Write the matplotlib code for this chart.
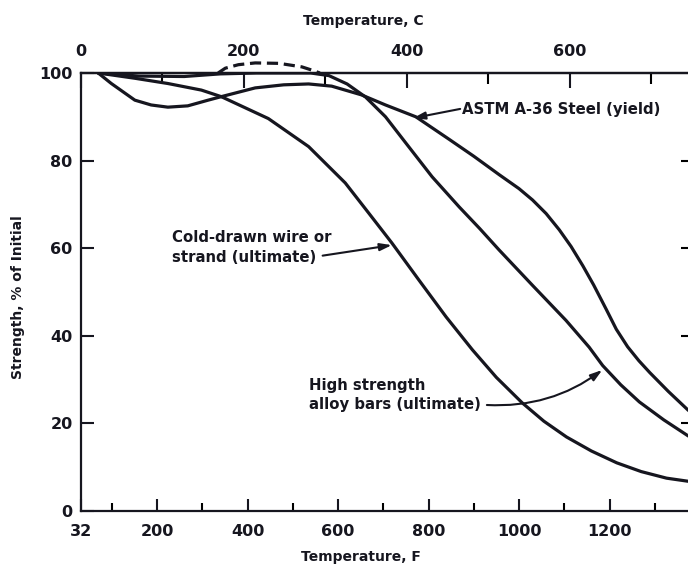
import matplotlib
matplotlib.use("Agg")
import matplotlib.pyplot as plt

INK = "#16161f"

# strength (% of initial) vs temperature (F)
cold_temp = [70, 151, 224, 298, 342, 446, 535, 616, 668, 719, 779, 839, 897, 950, 1007, 1055, 1105,
             1160, 1216, 1270, 1326, 1400]
cold_str  = [100, 98.8, 97.6, 96.1, 94.6, 89.6, 83.2, 74.9, 68.0, 61.2, 52.7, 44.3, 36.8, 30.5, 24.7, 20.5, 16.9,
             13.7, 11.0, 9.0, 7.5, 6.4]

alloy_temp = [70, 160, 260, 340, 420, 540, 580, 620, 661, 705, 750, 808, 868, 913, 956, 1030, 1104, 1155,
              1185, 1225, 1266, 1320, 1373, 1400]
alloy_str  = [100, 99.3, 99.2, 99.8, 100, 100, 99.4, 97.5, 94.5, 90.0, 84.0, 76.3, 69.4, 64.5, 59.6, 51.5, 43.5, 37.4,
              33.2, 28.8, 24.9, 20.8, 17.2, 15.6]

# dashed hump above 100 %
hump_temp = [335, 351, 380, 417, 470, 520, 541, 560]
hump_str  = [100, 101.1, 101.9, 102.3, 102.2, 101.4, 100.7, 100]

astm_temp = [70, 99, 151, 187, 224, 268, 313, 342, 417, 480, 535, 586, 652, 705, 772, 845, 900, 956,
             1000, 1030, 1060, 1089, 1115, 1141, 1165, 1193, 1215, 1240, 1265, 1289, 1330, 1373, 1400]
astm_str  = [100, 97.6, 93.8, 92.7, 92.2, 92.5, 93.8, 94.6, 96.6, 97.3, 97.5, 97.0, 95.0, 92.7, 90.0, 84.9, 81.0, 76.8,
             73.6, 71.0, 67.9, 64.2, 60.4, 56.0, 51.6, 46.0, 41.5, 37.5, 34.3, 31.6, 27.3, 23.1, 20.8]

f_major = [32, 200, 400, 600, 800, 1000, 1200]
f_minor = [100, 300, 500, 700, 900, 1100, 1300]
c_major = [0, 200, 400, 600]
c_minor = [100, 300, 500, 700]
y_ticks = [0, 20, 40, 60, 80, 100]


def f2c(f):
    return (f - 32) * 5.0 / 9.0


def c2f(c):
    return c * 9.0 / 5.0 + 32


plt.rcParams['font.family'] = ['DejaVu Sans']
plt.rcParams['font.weight'] = 'bold'
plt.rcParams['axes.labelweight'] = 'bold'

fig = plt.figure(figsize=(6.88, 5.64), dpi=100)
ax = fig.add_axes([81 / 688, 53 / 564, 619 / 688, 438 / 564])

lw = 2.3
ax.plot(cold_temp, cold_str, color=INK, lw=lw, solid_capstyle='round')
ax.plot(alloy_temp, alloy_str, color=INK, lw=lw, solid_capstyle='round')
ax.plot(hump_temp, hump_str, color=INK, lw=lw, ls=(0, (3.5, 1.8)), clip_on=False)
ax.plot(astm_temp, astm_str, color=INK, lw=lw, solid_capstyle='round')

ax.set_xlim(32, 1400)
ax.set_ylim(0, 100)

for s in ax.spines.values():
    s.set_linewidth(1.6)
    s.set_color(INK)

ax.set_xticks(f_major)
ax.set_xticks(f_minor, minor=True)
ax.set_yticks(y_ticks)
ax.tick_params(axis='x', which='major', direction='in', length=9, width=1.5, pad=9,
               labelsize=11.5, colors=INK)
ax.tick_params(axis='x', which='minor', direction='in', length=6, width=1.5)
ax.tick_params(axis='y', direction='in', length=9, width=1.5, pad=6, labelsize=11.5, colors=INK)

sy = ax.secondary_yaxis('right')
sy.set_yticks(y_ticks[1:-1])
sy.tick_params(direction='in', length=14, width=1.5, labelright=False)

sx = ax.secondary_xaxis('top', functions=(f2c, c2f))
sx.set_xticks(c_major)
sx.set_xticks(c_minor, minor=True)
sx.tick_params(axis='x', which='major', direction='in', length=11, width=1.5, pad=10,
               labelsize=11.5, colors=INK)
sx.tick_params(axis='x', which='minor', direction='in', length=8, width=1.5)
sx.spines['top'].set_linewidth(1.6)

ax.set_xlabel("Temperature, F", fontsize=10, color=INK)
ax.xaxis.set_label_coords(0.452, -0.088)
ax.text(0.456, 1.103, "Temperature, C", transform=ax.transAxes, ha='center', va='bottom',
        fontsize=10, color=INK)
ax.set_ylabel("Strength, % of Initial", fontsize=10, color=INK)
ax.yaxis.set_label_coords(-0.091, 0.489)

arrow = dict(arrowstyle="-|>,head_length=0.7,head_width=0.22", color=INK, lw=1.5,
             shrinkA=0, shrinkB=0)

ax.text(874, 91.6, "ASTM A-36 Steel (yield)", ha='left', va='center', fontsize=10.7, color=INK)
ax.annotate("", xy=(766, 89.7), xytext=(870, 91.8), arrowprops=arrow)

ax.text(233, 60.2, "Cold-drawn wire or\nstrand (ultimate)", ha='left', va='center',
        fontsize=10.7, linespacing=1.4, color=INK)
ax.annotate("", xy=(719, 60.7), xytext=(566, 58.3), arrowprops=arrow)

ax.text(535, 26.5, "High strength\nalloy bars (ultimate)", ha='left', va='center',
        fontsize=10.7, linespacing=1.35, color=INK)
ax.annotate("", xy=(1184, 32.2), xytext=(929, 24.2),
            arrowprops=dict(arrow, connectionstyle="arc3,rad=0.18"))

fig.savefig("out.png", dpi=100)
